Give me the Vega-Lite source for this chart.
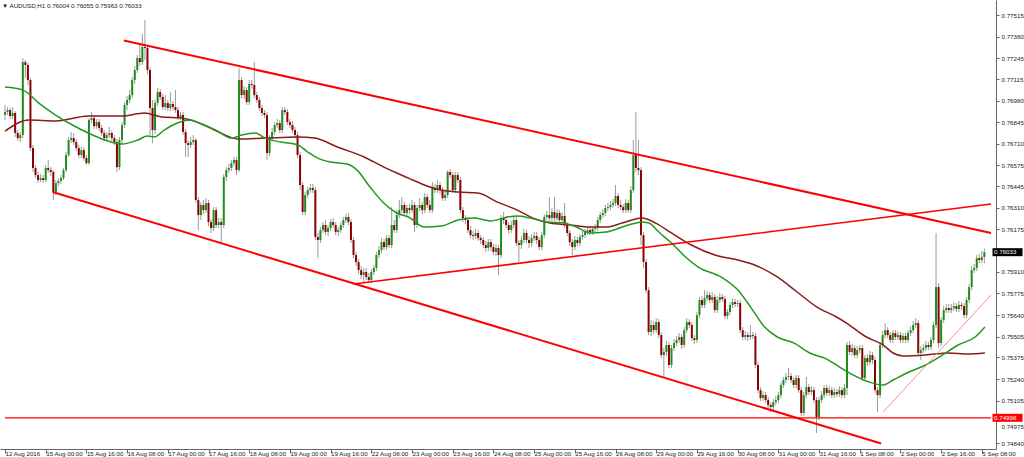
{
"$schema":"https://vega.github.io/schema/vega-lite/v6.json",
"width":996,"height":449,
"autosize":{"type":"none"},
"padding":{"left":0,"top":0,"right":28,"bottom":8},
"background":"white",
"config":{"view":{"stroke":null},"axis":{"labelFont":"Liberation Sans","labelFontSize":6.2,"labelColor":"#222222","domainColor":"#666666","tickColor":"#666666","grid":false,"labelOverlap":false,"labelBound":false,"labelFlush":false}},
"title":{"text":"▼ AUDUSD,H1   0.76004 0.76055 0.75963 0.76033","anchor":"start","orient":"top","frame":"group","offset":-9,"dx":2,"font":"Liberation Sans","fontSize":6.2,"fontWeight":"normal","color":"#222222"},
"datasets":{
"candles":[
{"i":0,"o":0.76890,"h":0.76953,"l":0.76859,"c":0.76909},
{"i":1,"o":0.76909,"h":0.76940,"l":0.76890,"c":0.76921},
{"i":2,"o":0.76921,"h":0.76934,"l":0.76865,"c":0.76884},
{"i":3,"o":0.76884,"h":0.76940,"l":0.76865,"c":0.76903},
{"i":4,"o":0.76903,"h":0.76915,"l":0.76753,"c":0.76778},
{"i":5,"o":0.76778,"h":0.76796,"l":0.76728,"c":0.76746},
{"i":6,"o":0.76746,"h":0.76784,"l":0.76721,"c":0.76765},
{"i":7,"o":0.76765,"h":0.77246,"l":0.76746,"c":0.77221},
{"i":8,"o":0.77221,"h":0.77234,"l":0.77121,"c":0.77203},
{"i":9,"o":0.77203,"h":0.77215,"l":0.77078,"c":0.77109},
{"i":10,"o":0.77109,"h":0.77121,"l":0.76665,"c":0.76684},
{"i":11,"o":0.76684,"h":0.76703,"l":0.76534,"c":0.76559},
{"i":12,"o":0.76559,"h":0.76578,"l":0.76496,"c":0.76515},
{"i":13,"o":0.76515,"h":0.76534,"l":0.76465,"c":0.76484},
{"i":14,"o":0.76484,"h":0.76521,"l":0.76471,"c":0.76496},
{"i":15,"o":0.76496,"h":0.76515,"l":0.76465,"c":0.76484},
{"i":16,"o":0.76484,"h":0.76578,"l":0.76471,"c":0.76559},
{"i":17,"o":0.76559,"h":0.76609,"l":0.76528,"c":0.76546},
{"i":18,"o":0.76546,"h":0.76565,"l":0.76509,"c":0.76534},
{"i":19,"o":0.76534,"h":0.76546,"l":0.76359,"c":0.76409},
{"i":20,"o":0.76409,"h":0.76484,"l":0.76390,"c":0.76465},
{"i":21,"o":0.76465,"h":0.76496,"l":0.76446,"c":0.76478},
{"i":22,"o":0.76478,"h":0.76515,"l":0.76459,"c":0.76496},
{"i":23,"o":0.76496,"h":0.76559,"l":0.76484,"c":0.76546},
{"i":24,"o":0.76546,"h":0.76659,"l":0.76534,"c":0.76640},
{"i":25,"o":0.76640,"h":0.76753,"l":0.76628,"c":0.76734},
{"i":26,"o":0.76734,"h":0.76784,"l":0.76715,"c":0.76746},
{"i":27,"o":0.76746,"h":0.76778,"l":0.76703,"c":0.76721},
{"i":28,"o":0.76721,"h":0.76740,"l":0.76665,"c":0.76684},
{"i":29,"o":0.76684,"h":0.76703,"l":0.76621,"c":0.76640},
{"i":30,"o":0.76640,"h":0.76690,"l":0.76621,"c":0.76671},
{"i":31,"o":0.76671,"h":0.76690,"l":0.76603,"c":0.76621},
{"i":32,"o":0.76621,"h":0.76640,"l":0.76578,"c":0.76590},
{"i":33,"o":0.76590,"h":0.76871,"l":0.76578,"c":0.76859},
{"i":34,"o":0.76859,"h":0.76909,"l":0.76840,"c":0.76871},
{"i":35,"o":0.76871,"h":0.76890,"l":0.76803,"c":0.76821},
{"i":36,"o":0.76821,"h":0.76865,"l":0.76803,"c":0.76846},
{"i":37,"o":0.76846,"h":0.76865,"l":0.76790,"c":0.76809},
{"i":38,"o":0.76809,"h":0.76828,"l":0.76759,"c":0.76778},
{"i":39,"o":0.76778,"h":0.76796,"l":0.76728,"c":0.76746},
{"i":40,"o":0.76746,"h":0.76784,"l":0.76728,"c":0.76765},
{"i":41,"o":0.76765,"h":0.76815,"l":0.76746,"c":0.76778},
{"i":42,"o":0.76778,"h":0.76796,"l":0.76728,"c":0.76746},
{"i":43,"o":0.76746,"h":0.76765,"l":0.76703,"c":0.76721},
{"i":44,"o":0.76721,"h":0.76740,"l":0.76534,"c":0.76565},
{"i":45,"o":0.76565,"h":0.76753,"l":0.76546,"c":0.76734},
{"i":46,"o":0.76734,"h":0.76846,"l":0.76715,"c":0.76828},
{"i":47,"o":0.76828,"h":0.76971,"l":0.76809,"c":0.76953},
{"i":48,"o":0.76953,"h":0.77009,"l":0.76921,"c":0.76984},
{"i":49,"o":0.76984,"h":0.77046,"l":0.76965,"c":0.77015},
{"i":50,"o":0.77015,"h":0.77128,"l":0.76996,"c":0.77109},
{"i":51,"o":0.77109,"h":0.77196,"l":0.77084,"c":0.77171},
{"i":52,"o":0.77171,"h":0.77265,"l":0.77153,"c":0.77246},
{"i":53,"o":0.77246,"h":0.77328,"l":0.77196,"c":0.77221},
{"i":54,"o":0.77221,"h":0.77396,"l":0.77203,"c":0.77315},
{"i":55,"o":0.77315,"h":0.77484,"l":0.77234,"c":0.77309},
{"i":56,"o":0.77309,"h":0.77328,"l":0.77146,"c":0.77171},
{"i":57,"o":0.77171,"h":0.77190,"l":0.76765,"c":0.76934},
{"i":58,"o":0.76934,"h":0.76984,"l":0.76715,"c":0.76796},
{"i":59,"o":0.76796,"h":0.76984,"l":0.76771,"c":0.76965},
{"i":60,"o":0.76965,"h":0.77059,"l":0.76946,"c":0.77034},
{"i":61,"o":0.77034,"h":0.77053,"l":0.76984,"c":0.77003},
{"i":62,"o":0.77003,"h":0.77021,"l":0.76921,"c":0.76940},
{"i":63,"o":0.76940,"h":0.77015,"l":0.76921,"c":0.76965},
{"i":64,"o":0.76965,"h":0.76984,"l":0.76915,"c":0.76934},
{"i":65,"o":0.76934,"h":0.77034,"l":0.76915,"c":0.76959},
{"i":66,"o":0.76959,"h":0.76978,"l":0.76921,"c":0.76940},
{"i":67,"o":0.76940,"h":0.77046,"l":0.76903,"c":0.76921},
{"i":68,"o":0.76921,"h":0.76940,"l":0.76859,"c":0.76878},
{"i":69,"o":0.76878,"h":0.76909,"l":0.76859,"c":0.76890},
{"i":70,"o":0.76890,"h":0.76909,"l":0.76765,"c":0.76784},
{"i":71,"o":0.76784,"h":0.76803,"l":0.76628,"c":0.76715},
{"i":72,"o":0.76715,"h":0.76734,"l":0.76628,"c":0.76703},
{"i":73,"o":0.76703,"h":0.76753,"l":0.76684,"c":0.76721},
{"i":74,"o":0.76721,"h":0.76765,"l":0.76703,"c":0.76734},
{"i":75,"o":0.76734,"h":0.76746,"l":0.76340,"c":0.76359},
{"i":76,"o":0.76359,"h":0.76378,"l":0.76171,"c":0.76265},
{"i":77,"o":0.76265,"h":0.76346,"l":0.76234,"c":0.76328},
{"i":78,"o":0.76328,"h":0.76359,"l":0.76271,"c":0.76296},
{"i":79,"o":0.76296,"h":0.76371,"l":0.76278,"c":0.76340},
{"i":80,"o":0.76340,"h":0.76359,"l":0.76196,"c":0.76221},
{"i":81,"o":0.76221,"h":0.76240,"l":0.76153,"c":0.76184},
{"i":82,"o":0.76184,"h":0.76315,"l":0.76165,"c":0.76296},
{"i":83,"o":0.76296,"h":0.76315,"l":0.76184,"c":0.76203},
{"i":84,"o":0.76203,"h":0.76246,"l":0.76184,"c":0.76221},
{"i":85,"o":0.76221,"h":0.76246,"l":0.76090,"c":0.76203},
{"i":86,"o":0.76203,"h":0.76521,"l":0.76184,"c":0.76503},
{"i":87,"o":0.76503,"h":0.76565,"l":0.76478,"c":0.76546},
{"i":88,"o":0.76546,"h":0.76584,"l":0.76528,"c":0.76559},
{"i":89,"o":0.76559,"h":0.76609,"l":0.76540,"c":0.76590},
{"i":90,"o":0.76590,"h":0.76628,"l":0.76571,"c":0.76609},
{"i":91,"o":0.76609,"h":0.76628,"l":0.76515,"c":0.76546},
{"i":92,"o":0.76546,"h":0.77184,"l":0.76534,"c":0.77109},
{"i":93,"o":0.77109,"h":0.77128,"l":0.76996,"c":0.77015},
{"i":94,"o":0.77015,"h":0.77071,"l":0.76990,"c":0.77046},
{"i":95,"o":0.77046,"h":0.77065,"l":0.76953,"c":0.76971},
{"i":96,"o":0.76971,"h":0.77109,"l":0.76953,"c":0.77084},
{"i":97,"o":0.77084,"h":0.77109,"l":0.77053,"c":0.77078},
{"i":98,"o":0.77078,"h":0.77221,"l":0.76996,"c":0.77015},
{"i":99,"o":0.77015,"h":0.77034,"l":0.76965,"c":0.76984},
{"i":100,"o":0.76984,"h":0.77003,"l":0.76915,"c":0.76934},
{"i":101,"o":0.76934,"h":0.76953,"l":0.76884,"c":0.76903},
{"i":102,"o":0.76903,"h":0.76921,"l":0.76871,"c":0.76890},
{"i":103,"o":0.76890,"h":0.76909,"l":0.76609,"c":0.76653},
{"i":104,"o":0.76653,"h":0.76765,"l":0.76634,"c":0.76746},
{"i":105,"o":0.76746,"h":0.76809,"l":0.76728,"c":0.76784},
{"i":106,"o":0.76784,"h":0.76846,"l":0.76765,"c":0.76828},
{"i":107,"o":0.76828,"h":0.76865,"l":0.76809,"c":0.76840},
{"i":108,"o":0.76840,"h":0.76859,"l":0.76778,"c":0.76796},
{"i":109,"o":0.76796,"h":0.76940,"l":0.76778,"c":0.76921},
{"i":110,"o":0.76921,"h":0.76940,"l":0.76890,"c":0.76909},
{"i":111,"o":0.76909,"h":0.76928,"l":0.76828,"c":0.76846},
{"i":112,"o":0.76846,"h":0.76865,"l":0.76809,"c":0.76828},
{"i":113,"o":0.76828,"h":0.76853,"l":0.76778,"c":0.76796},
{"i":114,"o":0.76796,"h":0.76815,"l":0.76746,"c":0.76765},
{"i":115,"o":0.76765,"h":0.76784,"l":0.76621,"c":0.76640},
{"i":116,"o":0.76640,"h":0.76659,"l":0.76421,"c":0.76453},
{"i":117,"o":0.76453,"h":0.76471,"l":0.76265,"c":0.76284},
{"i":118,"o":0.76284,"h":0.76409,"l":0.76265,"c":0.76390},
{"i":119,"o":0.76390,"h":0.76440,"l":0.76371,"c":0.76421},
{"i":120,"o":0.76421,"h":0.76459,"l":0.76403,"c":0.76434},
{"i":121,"o":0.76434,"h":0.76459,"l":0.76403,"c":0.76421},
{"i":122,"o":0.76421,"h":0.76440,"l":0.76109,"c":0.76128},
{"i":123,"o":0.76128,"h":0.76153,"l":0.75996,"c":0.76109},
{"i":124,"o":0.76109,"h":0.76190,"l":0.76090,"c":0.76171},
{"i":125,"o":0.76171,"h":0.76221,"l":0.76153,"c":0.76203},
{"i":126,"o":0.76203,"h":0.76234,"l":0.76140,"c":0.76159},
{"i":127,"o":0.76159,"h":0.76203,"l":0.76134,"c":0.76184},
{"i":128,"o":0.76184,"h":0.76240,"l":0.76165,"c":0.76221},
{"i":129,"o":0.76221,"h":0.76246,"l":0.76184,"c":0.76203},
{"i":130,"o":0.76203,"h":0.76221,"l":0.76140,"c":0.76159},
{"i":131,"o":0.76159,"h":0.76190,"l":0.76134,"c":0.76171},
{"i":132,"o":0.76171,"h":0.76221,"l":0.76153,"c":0.76203},
{"i":133,"o":0.76203,"h":0.76253,"l":0.76184,"c":0.76234},
{"i":134,"o":0.76234,"h":0.76271,"l":0.76215,"c":0.76253},
{"i":135,"o":0.76253,"h":0.76278,"l":0.76203,"c":0.76221},
{"i":136,"o":0.76221,"h":0.76240,"l":0.76090,"c":0.76109},
{"i":137,"o":0.76109,"h":0.76128,"l":0.75996,"c":0.76015},
{"i":138,"o":0.76015,"h":0.76034,"l":0.75946,"c":0.75971},
{"i":139,"o":0.75971,"h":0.75990,"l":0.75896,"c":0.75921},
{"i":140,"o":0.75921,"h":0.75946,"l":0.75865,"c":0.75890},
{"i":141,"o":0.75890,"h":0.75934,"l":0.75846,"c":0.75909},
{"i":142,"o":0.75909,"h":0.75934,"l":0.75859,"c":0.75878},
{"i":143,"o":0.75878,"h":0.75903,"l":0.75840,"c":0.75859},
{"i":144,"o":0.75859,"h":0.75928,"l":0.75840,"c":0.75909},
{"i":145,"o":0.75909,"h":0.75953,"l":0.75890,"c":0.75934},
{"i":146,"o":0.75934,"h":0.76034,"l":0.75915,"c":0.76015},
{"i":147,"o":0.76015,"h":0.76071,"l":0.75996,"c":0.76046},
{"i":148,"o":0.76046,"h":0.76121,"l":0.76028,"c":0.76096},
{"i":149,"o":0.76096,"h":0.76115,"l":0.76046,"c":0.76065},
{"i":150,"o":0.76065,"h":0.76140,"l":0.76046,"c":0.76121},
{"i":151,"o":0.76121,"h":0.76140,"l":0.76059,"c":0.76078},
{"i":152,"o":0.76078,"h":0.76315,"l":0.76059,"c":0.76203},
{"i":153,"o":0.76203,"h":0.76234,"l":0.76153,"c":0.76171},
{"i":154,"o":0.76171,"h":0.76296,"l":0.76153,"c":0.76265},
{"i":155,"o":0.76265,"h":0.76359,"l":0.76246,"c":0.76296},
{"i":156,"o":0.76296,"h":0.76378,"l":0.76278,"c":0.76328},
{"i":157,"o":0.76328,"h":0.76346,"l":0.76259,"c":0.76278},
{"i":158,"o":0.76278,"h":0.76328,"l":0.76259,"c":0.76309},
{"i":159,"o":0.76309,"h":0.76334,"l":0.76271,"c":0.76296},
{"i":160,"o":0.76296,"h":0.76359,"l":0.76278,"c":0.76328},
{"i":161,"o":0.76328,"h":0.76346,"l":0.76159,"c":0.76203},
{"i":162,"o":0.76203,"h":0.76328,"l":0.76184,"c":0.76309},
{"i":163,"o":0.76309,"h":0.76371,"l":0.76290,"c":0.76328},
{"i":164,"o":0.76328,"h":0.76346,"l":0.76271,"c":0.76296},
{"i":165,"o":0.76296,"h":0.76403,"l":0.76278,"c":0.76378},
{"i":166,"o":0.76378,"h":0.76396,"l":0.76309,"c":0.76328},
{"i":167,"o":0.76328,"h":0.76359,"l":0.76278,"c":0.76296},
{"i":168,"o":0.76296,"h":0.76471,"l":0.76278,"c":0.76434},
{"i":169,"o":0.76434,"h":0.76459,"l":0.76403,"c":0.76421},
{"i":170,"o":0.76421,"h":0.76484,"l":0.76403,"c":0.76453},
{"i":171,"o":0.76453,"h":0.76471,"l":0.76396,"c":0.76421},
{"i":172,"o":0.76421,"h":0.76440,"l":0.76353,"c":0.76371},
{"i":173,"o":0.76371,"h":0.76415,"l":0.76353,"c":0.76390},
{"i":174,"o":0.76390,"h":0.76546,"l":0.76371,"c":0.76534},
{"i":175,"o":0.76534,"h":0.76553,"l":0.76496,"c":0.76515},
{"i":176,"o":0.76515,"h":0.76534,"l":0.76403,"c":0.76421},
{"i":177,"o":0.76421,"h":0.76534,"l":0.76403,"c":0.76515},
{"i":178,"o":0.76515,"h":0.76534,"l":0.76465,"c":0.76484},
{"i":179,"o":0.76484,"h":0.76503,"l":0.76278,"c":0.76296},
{"i":180,"o":0.76296,"h":0.76315,"l":0.76221,"c":0.76246},
{"i":181,"o":0.76246,"h":0.76265,"l":0.76209,"c":0.76234},
{"i":182,"o":0.76234,"h":0.76253,"l":0.76153,"c":0.76171},
{"i":183,"o":0.76171,"h":0.76196,"l":0.76121,"c":0.76140},
{"i":184,"o":0.76140,"h":0.76165,"l":0.76109,"c":0.76134},
{"i":185,"o":0.76134,"h":0.76178,"l":0.76115,"c":0.76153},
{"i":186,"o":0.76153,"h":0.76171,"l":0.76103,"c":0.76121},
{"i":187,"o":0.76121,"h":0.76140,"l":0.76084,"c":0.76109},
{"i":188,"o":0.76109,"h":0.76128,"l":0.76059,"c":0.76078},
{"i":189,"o":0.76078,"h":0.76103,"l":0.76034,"c":0.76059},
{"i":190,"o":0.76059,"h":0.76115,"l":0.76040,"c":0.76096},
{"i":191,"o":0.76096,"h":0.76115,"l":0.76040,"c":0.76065},
{"i":192,"o":0.76065,"h":0.76084,"l":0.76015,"c":0.76034},
{"i":193,"o":0.76034,"h":0.76084,"l":0.76009,"c":0.76059},
{"i":194,"o":0.76059,"h":0.76078,"l":0.75890,"c":0.76015},
{"i":195,"o":0.76015,"h":0.76265,"l":0.75996,"c":0.76246},
{"i":196,"o":0.76246,"h":0.76284,"l":0.76209,"c":0.76234},
{"i":197,"o":0.76234,"h":0.76259,"l":0.76184,"c":0.76203},
{"i":198,"o":0.76203,"h":0.76221,"l":0.76146,"c":0.76171},
{"i":199,"o":0.76171,"h":0.76228,"l":0.76153,"c":0.76203},
{"i":200,"o":0.76203,"h":0.76259,"l":0.76184,"c":0.76234},
{"i":201,"o":0.76234,"h":0.76253,"l":0.76071,"c":0.76090},
{"i":202,"o":0.76090,"h":0.76109,"l":0.75971,"c":0.76078},
{"i":203,"o":0.76078,"h":0.76134,"l":0.76053,"c":0.76109},
{"i":204,"o":0.76109,"h":0.76178,"l":0.76090,"c":0.76153},
{"i":205,"o":0.76153,"h":0.76171,"l":0.76090,"c":0.76109},
{"i":206,"o":0.76109,"h":0.76134,"l":0.76059,"c":0.76090},
{"i":207,"o":0.76090,"h":0.76146,"l":0.76065,"c":0.76121},
{"i":208,"o":0.76121,"h":0.76159,"l":0.76103,"c":0.76134},
{"i":209,"o":0.76134,"h":0.76159,"l":0.76084,"c":0.76109},
{"i":210,"o":0.76109,"h":0.76128,"l":0.76046,"c":0.76065},
{"i":211,"o":0.76065,"h":0.76159,"l":0.76046,"c":0.76140},
{"i":212,"o":0.76140,"h":0.76271,"l":0.76121,"c":0.76253},
{"i":213,"o":0.76253,"h":0.76290,"l":0.76234,"c":0.76265},
{"i":214,"o":0.76265,"h":0.76378,"l":0.76228,"c":0.76246},
{"i":215,"o":0.76246,"h":0.76309,"l":0.76228,"c":0.76284},
{"i":216,"o":0.76284,"h":0.76378,"l":0.76228,"c":0.76246},
{"i":217,"o":0.76246,"h":0.76303,"l":0.76228,"c":0.76278},
{"i":218,"o":0.76278,"h":0.76296,"l":0.76215,"c":0.76234},
{"i":219,"o":0.76234,"h":0.76284,"l":0.76215,"c":0.76259},
{"i":220,"o":0.76259,"h":0.76340,"l":0.76184,"c":0.76203},
{"i":221,"o":0.76203,"h":0.76221,"l":0.76134,"c":0.76153},
{"i":222,"o":0.76153,"h":0.76171,"l":0.76071,"c":0.76096},
{"i":223,"o":0.76096,"h":0.76115,"l":0.76015,"c":0.76065},
{"i":224,"o":0.76065,"h":0.76134,"l":0.76046,"c":0.76109},
{"i":225,"o":0.76109,"h":0.76128,"l":0.76071,"c":0.76090},
{"i":226,"o":0.76090,"h":0.76146,"l":0.76071,"c":0.76128},
{"i":227,"o":0.76128,"h":0.76165,"l":0.76109,"c":0.76140},
{"i":228,"o":0.76140,"h":0.76178,"l":0.76121,"c":0.76159},
{"i":229,"o":0.76159,"h":0.76190,"l":0.76140,"c":0.76171},
{"i":230,"o":0.76171,"h":0.76190,"l":0.76140,"c":0.76159},
{"i":231,"o":0.76159,"h":0.76196,"l":0.76140,"c":0.76178},
{"i":232,"o":0.76178,"h":0.76209,"l":0.76159,"c":0.76184},
{"i":233,"o":0.76184,"h":0.76253,"l":0.76165,"c":0.76234},
{"i":234,"o":0.76234,"h":0.76284,"l":0.76215,"c":0.76265},
{"i":235,"o":0.76265,"h":0.76303,"l":0.76246,"c":0.76278},
{"i":236,"o":0.76278,"h":0.76328,"l":0.76259,"c":0.76309},
{"i":237,"o":0.76309,"h":0.76340,"l":0.76290,"c":0.76315},
{"i":238,"o":0.76315,"h":0.76353,"l":0.76296,"c":0.76328},
{"i":239,"o":0.76328,"h":0.76365,"l":0.76309,"c":0.76340},
{"i":240,"o":0.76340,"h":0.76453,"l":0.76321,"c":0.76384},
{"i":241,"o":0.76384,"h":0.76403,"l":0.76309,"c":0.76328},
{"i":242,"o":0.76328,"h":0.76359,"l":0.76296,"c":0.76315},
{"i":243,"o":0.76315,"h":0.76334,"l":0.76278,"c":0.76296},
{"i":244,"o":0.76296,"h":0.76365,"l":0.76278,"c":0.76340},
{"i":245,"o":0.76340,"h":0.76359,"l":0.76278,"c":0.76296},
{"i":246,"o":0.76296,"h":0.76446,"l":0.76278,"c":0.76421},
{"i":247,"o":0.76421,"h":0.76734,"l":0.76403,"c":0.76640},
{"i":248,"o":0.76640,"h":0.76909,"l":0.76534,"c":0.76559},
{"i":249,"o":0.76559,"h":0.76734,"l":0.76515,"c":0.76546},
{"i":250,"o":0.76546,"h":0.76565,"l":0.76078,"c":0.76140},
{"i":251,"o":0.76140,"h":0.76159,"l":0.75934,"c":0.75971},
{"i":252,"o":0.75971,"h":0.75990,"l":0.75778,"c":0.75796},
{"i":253,"o":0.75796,"h":0.75815,"l":0.75515,"c":0.75534},
{"i":254,"o":0.75534,"h":0.75609,"l":0.75509,"c":0.75578},
{"i":255,"o":0.75578,"h":0.75603,"l":0.75521,"c":0.75546},
{"i":256,"o":0.75546,"h":0.75621,"l":0.75528,"c":0.75596},
{"i":257,"o":0.75596,"h":0.75615,"l":0.75496,"c":0.75515},
{"i":258,"o":0.75515,"h":0.75534,"l":0.75371,"c":0.75390},
{"i":259,"o":0.75390,"h":0.75434,"l":0.75246,"c":0.75409},
{"i":260,"o":0.75409,"h":0.75478,"l":0.75384,"c":0.75453},
{"i":261,"o":0.75453,"h":0.75471,"l":0.75309,"c":0.75328},
{"i":262,"o":0.75328,"h":0.75453,"l":0.75309,"c":0.75434},
{"i":263,"o":0.75434,"h":0.75490,"l":0.75415,"c":0.75465},
{"i":264,"o":0.75465,"h":0.75509,"l":0.75446,"c":0.75484},
{"i":265,"o":0.75484,"h":0.75528,"l":0.75465,"c":0.75503},
{"i":266,"o":0.75503,"h":0.75521,"l":0.75428,"c":0.75453},
{"i":267,"o":0.75453,"h":0.75565,"l":0.75434,"c":0.75546},
{"i":268,"o":0.75546,"h":0.75621,"l":0.75528,"c":0.75596},
{"i":269,"o":0.75596,"h":0.75615,"l":0.75559,"c":0.75578},
{"i":270,"o":0.75578,"h":0.75596,"l":0.75478,"c":0.75496},
{"i":271,"o":0.75496,"h":0.75515,"l":0.75459,"c":0.75484},
{"i":272,"o":0.75484,"h":0.75659,"l":0.75465,"c":0.75640},
{"i":273,"o":0.75640,"h":0.75753,"l":0.75621,"c":0.75734},
{"i":274,"o":0.75734,"h":0.75759,"l":0.75684,"c":0.75703},
{"i":275,"o":0.75703,"h":0.75796,"l":0.75684,"c":0.75746},
{"i":276,"o":0.75746,"h":0.75790,"l":0.75728,"c":0.75765},
{"i":277,"o":0.75765,"h":0.75784,"l":0.75715,"c":0.75734},
{"i":278,"o":0.75734,"h":0.75784,"l":0.75715,"c":0.75753},
{"i":279,"o":0.75753,"h":0.75771,"l":0.75653,"c":0.75671},
{"i":280,"o":0.75671,"h":0.75759,"l":0.75653,"c":0.75734},
{"i":281,"o":0.75734,"h":0.75778,"l":0.75715,"c":0.75753},
{"i":282,"o":0.75753,"h":0.75771,"l":0.75721,"c":0.75740},
{"i":283,"o":0.75740,"h":0.75759,"l":0.75615,"c":0.75634},
{"i":284,"o":0.75634,"h":0.75678,"l":0.75615,"c":0.75659},
{"i":285,"o":0.75659,"h":0.75721,"l":0.75640,"c":0.75703},
{"i":286,"o":0.75703,"h":0.75746,"l":0.75684,"c":0.75721},
{"i":287,"o":0.75721,"h":0.75740,"l":0.75690,"c":0.75709},
{"i":288,"o":0.75709,"h":0.75734,"l":0.75690,"c":0.75715},
{"i":289,"o":0.75715,"h":0.75734,"l":0.75528,"c":0.75546},
{"i":290,"o":0.75546,"h":0.75565,"l":0.75484,"c":0.75503},
{"i":291,"o":0.75503,"h":0.75540,"l":0.75484,"c":0.75515},
{"i":292,"o":0.75515,"h":0.75534,"l":0.75478,"c":0.75503},
{"i":293,"o":0.75503,"h":0.75578,"l":0.75484,"c":0.75515},
{"i":294,"o":0.75515,"h":0.75534,"l":0.75490,"c":0.75509},
{"i":295,"o":0.75509,"h":0.75528,"l":0.75309,"c":0.75328},
{"i":296,"o":0.75328,"h":0.75346,"l":0.75153,"c":0.75171},
{"i":297,"o":0.75171,"h":0.75190,"l":0.75103,"c":0.75121},
{"i":298,"o":0.75121,"h":0.75165,"l":0.75103,"c":0.75140},
{"i":299,"o":0.75140,"h":0.75159,"l":0.75090,"c":0.75109},
{"i":300,"o":0.75109,"h":0.75128,"l":0.75059,"c":0.75078},
{"i":301,"o":0.75078,"h":0.75096,"l":0.75034,"c":0.75065},
{"i":302,"o":0.75065,"h":0.75115,"l":0.75046,"c":0.75096},
{"i":303,"o":0.75096,"h":0.75134,"l":0.75078,"c":0.75109},
{"i":304,"o":0.75109,"h":0.75159,"l":0.75090,"c":0.75140},
{"i":305,"o":0.75140,"h":0.75221,"l":0.75121,"c":0.75203},
{"i":306,"o":0.75203,"h":0.75253,"l":0.75184,"c":0.75234},
{"i":307,"o":0.75234,"h":0.75278,"l":0.75215,"c":0.75253},
{"i":308,"o":0.75253,"h":0.75309,"l":0.75234,"c":0.75259},
{"i":309,"o":0.75259,"h":0.75278,"l":0.75215,"c":0.75234},
{"i":310,"o":0.75234,"h":0.75253,"l":0.75184,"c":0.75203},
{"i":311,"o":0.75203,"h":0.75265,"l":0.75184,"c":0.75246},
{"i":312,"o":0.75246,"h":0.75265,"l":0.75153,"c":0.75171},
{"i":313,"o":0.75171,"h":0.75190,"l":0.75009,"c":0.75028},
{"i":314,"o":0.75028,"h":0.75159,"l":0.75009,"c":0.75140},
{"i":315,"o":0.75140,"h":0.75253,"l":0.75121,"c":0.75190},
{"i":316,"o":0.75190,"h":0.75209,"l":0.75140,"c":0.75159},
{"i":317,"o":0.75159,"h":0.75196,"l":0.75140,"c":0.75171},
{"i":318,"o":0.75171,"h":0.75190,"l":0.75090,"c":0.75109},
{"i":319,"o":0.75109,"h":0.75128,"l":0.74903,"c":0.75003},
{"i":320,"o":0.75003,"h":0.75128,"l":0.74984,"c":0.75109},
{"i":321,"o":0.75109,"h":0.75165,"l":0.75090,"c":0.75140},
{"i":322,"o":0.75140,"h":0.75203,"l":0.75121,"c":0.75184},
{"i":323,"o":0.75184,"h":0.75203,"l":0.75134,"c":0.75153},
{"i":324,"o":0.75153,"h":0.75196,"l":0.75134,"c":0.75171},
{"i":325,"o":0.75171,"h":0.75190,"l":0.75121,"c":0.75140},
{"i":326,"o":0.75140,"h":0.75184,"l":0.75121,"c":0.75159},
{"i":327,"o":0.75159,"h":0.75178,"l":0.75128,"c":0.75146},
{"i":328,"o":0.75146,"h":0.75196,"l":0.75128,"c":0.75171},
{"i":329,"o":0.75171,"h":0.75190,"l":0.75121,"c":0.75140},
{"i":330,"o":0.75140,"h":0.75209,"l":0.75121,"c":0.75184},
{"i":331,"o":0.75184,"h":0.75471,"l":0.75140,"c":0.75453},
{"i":332,"o":0.75453,"h":0.75478,"l":0.75390,"c":0.75409},
{"i":333,"o":0.75409,"h":0.75459,"l":0.75384,"c":0.75434},
{"i":334,"o":0.75434,"h":0.75453,"l":0.75371,"c":0.75390},
{"i":335,"o":0.75390,"h":0.75446,"l":0.75371,"c":0.75421},
{"i":336,"o":0.75421,"h":0.75453,"l":0.75403,"c":0.75434},
{"i":337,"o":0.75434,"h":0.75453,"l":0.75228,"c":0.75246},
{"i":338,"o":0.75246,"h":0.75390,"l":0.75228,"c":0.75371},
{"i":339,"o":0.75371,"h":0.75396,"l":0.75321,"c":0.75346},
{"i":340,"o":0.75346,"h":0.75415,"l":0.75328,"c":0.75390},
{"i":341,"o":0.75390,"h":0.75409,"l":0.75334,"c":0.75359},
{"i":342,"o":0.75359,"h":0.75378,"l":0.75153,"c":0.75171},
{"i":343,"o":0.75171,"h":0.75190,"l":0.75034,"c":0.75140},
{"i":344,"o":0.75140,"h":0.75471,"l":0.75121,"c":0.75453},
{"i":345,"o":0.75453,"h":0.75540,"l":0.75434,"c":0.75515},
{"i":346,"o":0.75515,"h":0.75590,"l":0.75496,"c":0.75546},
{"i":347,"o":0.75546,"h":0.75565,"l":0.75496,"c":0.75515},
{"i":348,"o":0.75515,"h":0.75534,"l":0.75465,"c":0.75484},
{"i":349,"o":0.75484,"h":0.75546,"l":0.75465,"c":0.75528},
{"i":350,"o":0.75528,"h":0.75546,"l":0.75484,"c":0.75503},
{"i":351,"o":0.75503,"h":0.75540,"l":0.75484,"c":0.75515},
{"i":352,"o":0.75515,"h":0.75534,"l":0.75465,"c":0.75484},
{"i":353,"o":0.75484,"h":0.75528,"l":0.75465,"c":0.75509},
{"i":354,"o":0.75509,"h":0.75528,"l":0.75465,"c":0.75484},
{"i":355,"o":0.75484,"h":0.75546,"l":0.75465,"c":0.75528},
{"i":356,"o":0.75528,"h":0.75571,"l":0.75509,"c":0.75546},
{"i":357,"o":0.75546,"h":0.75603,"l":0.75528,"c":0.75578},
{"i":358,"o":0.75578,"h":0.75621,"l":0.75559,"c":0.75590},
{"i":359,"o":0.75590,"h":0.75609,"l":0.75384,"c":0.75403},
{"i":360,"o":0.75403,"h":0.75446,"l":0.75359,"c":0.75421},
{"i":361,"o":0.75421,"h":0.75459,"l":0.75403,"c":0.75434},
{"i":362,"o":0.75434,"h":0.75478,"l":0.75415,"c":0.75453},
{"i":363,"o":0.75453,"h":0.75471,"l":0.75421,"c":0.75440},
{"i":364,"o":0.75440,"h":0.75503,"l":0.75421,"c":0.75484},
{"i":365,"o":0.75484,"h":0.75596,"l":0.75465,"c":0.75578},
{"i":366,"o":0.75578,"h":0.76153,"l":0.75559,"c":0.75815},
{"i":367,"o":0.75815,"h":0.75840,"l":0.75434,"c":0.75465},
{"i":368,"o":0.75465,"h":0.75628,"l":0.75446,"c":0.75609},
{"i":369,"o":0.75609,"h":0.75696,"l":0.75590,"c":0.75671},
{"i":370,"o":0.75671,"h":0.75709,"l":0.75653,"c":0.75684},
{"i":371,"o":0.75684,"h":0.75709,"l":0.75653,"c":0.75671},
{"i":372,"o":0.75671,"h":0.75709,"l":0.75653,"c":0.75684},
{"i":373,"o":0.75684,"h":0.75721,"l":0.75665,"c":0.75696},
{"i":374,"o":0.75696,"h":0.75715,"l":0.75659,"c":0.75678},
{"i":375,"o":0.75678,"h":0.75728,"l":0.75659,"c":0.75703},
{"i":376,"o":0.75703,"h":0.75721,"l":0.75671,"c":0.75696},
{"i":377,"o":0.75696,"h":0.75715,"l":0.75621,"c":0.75640},
{"i":378,"o":0.75640,"h":0.75753,"l":0.75621,"c":0.75734},
{"i":379,"o":0.75734,"h":0.75834,"l":0.75715,"c":0.75815},
{"i":380,"o":0.75815,"h":0.75946,"l":0.75796,"c":0.75921},
{"i":381,"o":0.75921,"h":0.75959,"l":0.75903,"c":0.75934},
{"i":382,"o":0.75934,"h":0.76015,"l":0.75915,"c":0.75996},
{"i":383,"o":0.75996,"h":0.76021,"l":0.75965,"c":0.75984},
{"i":384,"o":0.75984,"h":0.76040,"l":0.75965,"c":0.76004},
{"i":385,"o":0.76004,"h":0.76055,"l":0.75963,"c":0.76033}
],
"ma":[
{"ma":"fast","i":0,"p":0.77065},{"ma":"fast","i":7.1,"p":0.77046},{"ma":"fast","i":13.3,"p":0.76965},{"ma":"fast","i":19.9,"p":0.76890},{"ma":"fast","i":26.5,"p":0.76828},{"ma":"fast","i":32.7,"p":0.76778},{"ma":"fast","i":39.3,"p":0.76734},{"ma":"fast","i":45.9,"p":0.76709},{"ma":"fast","i":52.2,"p":0.76734},{"ma":"fast","i":56,"p":0.76759},{"ma":"fast","i":58.8,"p":0.76753},{"ma":"fast","i":62.6,"p":0.76796},{"ma":"fast","i":67.7,"p":0.76840},{"ma":"fast","i":73.1,"p":0.76859},{"ma":"fast","i":76.3,"p":0.76840},{"ma":"fast","i":82.9,"p":0.76796},{"ma":"fast","i":89.1,"p":0.76746},{"ma":"fast","i":93,"p":0.76765},{"ma":"fast","i":98.4,"p":0.76778},{"ma":"fast","i":102.3,"p":0.76746},{"ma":"fast","i":108.5,"p":0.76721},{"ma":"fast","i":115.1,"p":0.76703},{"ma":"fast","i":119,"p":0.76659},{"ma":"fast","i":122.9,"p":0.76621},{"ma":"fast","i":128,"p":0.76596},{"ma":"fast","i":134.5,"p":0.76584},{"ma":"fast","i":138.4,"p":0.76546},{"ma":"fast","i":143.5,"p":0.76440},{"ma":"fast","i":148.9,"p":0.76340},{"ma":"fast","i":154,"p":0.76278},{"ma":"fast","i":158.6,"p":0.76253},{"ma":"fast","i":164.9,"p":0.76190},{"ma":"fast","i":171.5,"p":0.76196},{"ma":"fast","i":178.1,"p":0.76234},{"ma":"fast","i":184.3,"p":0.76246},{"ma":"fast","i":190.9,"p":0.76228},{"ma":"fast","i":197.5,"p":0.76253},{"ma":"fast","i":201.4,"p":0.76259},{"ma":"fast","i":206.5,"p":0.76246},{"ma":"fast","i":213.1,"p":0.76221},{"ma":"fast","i":219.3,"p":0.76215},{"ma":"fast","i":224.7,"p":0.76190},{"ma":"fast","i":229.8,"p":0.76153},{"ma":"fast","i":236.4,"p":0.76159},{"ma":"fast","i":242.6,"p":0.76190},{"ma":"fast","i":248,"p":0.76215},{"ma":"fast","i":250.4,"p":0.76221},{"ma":"fast","i":253.1,"p":0.76215},{"ma":"fast","i":257,"p":0.76159},{"ma":"fast","i":262,"p":0.76090},{"ma":"fast","i":267.5,"p":0.76003},{"ma":"fast","i":272.5,"p":0.75940},{"ma":"fast","i":281.5,"p":0.75878},{"ma":"fast","i":288.1,"p":0.75796},{"ma":"fast","i":293.1,"p":0.75690},{"ma":"fast","i":298.6,"p":0.75565},{"ma":"fast","i":303.6,"p":0.75503},{"ma":"fast","i":310.2,"p":0.75465},{"ma":"fast","i":316.4,"p":0.75403},{"ma":"fast","i":323,"p":0.75365},{"ma":"fast","i":328.1,"p":0.75315},{"ma":"fast","i":333.5,"p":0.75265},{"ma":"fast","i":339.8,"p":0.75221},{"ma":"fast","i":345.2,"p":0.75203},{"ma":"fast","i":349.1,"p":0.75234},{"ma":"fast","i":355.3,"p":0.75284},{"ma":"fast","i":361.9,"p":0.75328},{"ma":"fast","i":368.5,"p":0.75390},{"ma":"fast","i":374.7,"p":0.75453},{"ma":"fast","i":381.4,"p":0.75503},{"ma":"fast","i":385.2,"p":0.75565},
{"ma":"slow","i":0,"p":0.76790},{"ma":"slow","i":9.4,"p":0.76859},{"ma":"slow","i":19.9,"p":0.76853},{"ma":"slow","i":32.7,"p":0.76884},{"ma":"slow","i":45.9,"p":0.76884},{"ma":"slow","i":54.9,"p":0.76903},{"ma":"slow","i":61.5,"p":0.76878},{"ma":"slow","i":69.3,"p":0.76871},{"ma":"slow","i":75.5,"p":0.76846},{"ma":"slow","i":78.2,"p":0.76828},{"ma":"slow","i":84,"p":0.76784},{"ma":"slow","i":91.8,"p":0.76740},{"ma":"slow","i":102.3,"p":0.76746},{"ma":"slow","i":115.1,"p":0.76753},{"ma":"slow","i":121.7,"p":0.76746},{"ma":"slow","i":130.7,"p":0.76690},{"ma":"slow","i":141.2,"p":0.76628},{"ma":"slow","i":148.9,"p":0.76565},{"ma":"slow","i":154,"p":0.76528},{"ma":"slow","i":158.6,"p":0.76496},{"ma":"slow","i":164.9,"p":0.76453},{"ma":"slow","i":171.5,"p":0.76421},{"ma":"slow","i":178.1,"p":0.76409},{"ma":"slow","i":185.9,"p":0.76403},{"ma":"slow","i":193.6,"p":0.76346},{"ma":"slow","i":201.4,"p":0.76296},{"ma":"slow","i":207.6,"p":0.76246},{"ma":"slow","i":214.2,"p":0.76215},{"ma":"slow","i":222,"p":0.76203},{"ma":"slow","i":229.8,"p":0.76190},{"ma":"slow","i":236.4,"p":0.76190},{"ma":"slow","i":242.6,"p":0.76215},{"ma":"slow","i":250.4,"p":0.76246},{"ma":"slow","i":255.8,"p":0.76215},{"ma":"slow","i":262,"p":0.76153},{"ma":"slow","i":269.8,"p":0.76078},{"ma":"slow","i":279.1,"p":0.76015},{"ma":"slow","i":288.1,"p":0.75984},{"ma":"slow","i":294.7,"p":0.75953},{"ma":"slow","i":303.6,"p":0.75878},{"ma":"slow","i":311.4,"p":0.75784},{"ma":"slow","i":319.2,"p":0.75690},{"ma":"slow","i":326.9,"p":0.75628},{"ma":"slow","i":330.8,"p":0.75590},{"ma":"slow","i":338.6,"p":0.75503},{"ma":"slow","i":345.2,"p":0.75453},{"ma":"slow","i":349.1,"p":0.75403},{"ma":"slow","i":353,"p":0.75384},{"ma":"slow","i":361.9,"p":0.75390},{"ma":"slow","i":370.8,"p":0.75403},{"ma":"slow","i":378.6,"p":0.75396},{"ma":"slow","i":385.2,"p":0.75403}
],
"lines":[
{"line":"upper","i":46.7,"p":0.77356},{"line":"upper","i":387.6,"p":0.76153},
{"line":"lower","i":18.7,"p":0.76409},{"line":"lower","i":344.4,"p":0.74837},
{"line":"rise","i":137,"p":0.75834},{"line":"rise","i":387.6,"p":0.76334},
{"line":"level","i":0,"p":0.74998},{"line":"level","i":387.6,"p":0.74998},
{"line":"pink","i":345.2,"p":0.75034},{"line":"pink","i":387.6,"p":0.75765}
],
"tags":[
{"label":"0.76033","p":0.76033,"kind":"bid"},
{"label":"0.74998","p":0.74998,"kind":"level"}
]
},
"layer":[
{"data":{"name":"candles"},
 "mark":{"type":"rule","color":"#9a9a9a","strokeWidth":1},
 "encoding":{
  "x":{"field":"i","type":"quantitative","scale":{"domain":[0,387.6],"nice":false,"zero":false},
   "axis":{"title":null,"tickCount":60,"values":[0,16,32,48,64,80,96,112,128,144,160,176,192,208,224,240,256,272,288,304,320,336,352,368,384],
    "labelExpr":"['12 Aug 2016','15 Aug 00:00','15 Aug 16:00','16 Aug 08:00','17 Aug 00:00','17 Aug 16:00','18 Aug 08:00','19 Aug 00:00','19 Aug 16:00','22 Aug 08:00','23 Aug 00:00','23 Aug 16:00','24 Aug 08:00','25 Aug 00:00','25 Aug 16:00','26 Aug 08:00','29 Aug 00:00','29 Aug 16:00','30 Aug 08:00','31 Aug 00:00','31 Aug 16:00','1 Sep 08:00','2 Sep 00:00','2 Sep 16:00','5 Sep 08:00'][round(datum.value/16)]",
    "labelAlign":"left","labelBaseline":"top","labelPadding":-3,"labelDx":2,"tickSize":4,"labelFlush":false,"labelOverlap":false,"labelBound":false}},
  "y":{"field":"l","type":"quantitative","scale":{"domain":[0.74803,0.77609],"nice":false,"zero":false},
   "axis":{"orient":"right","title":null,"tickCount":60,"values":[0.77515,0.7738,0.77245,0.77115,0.7698,0.76845,0.7671,0.76575,0.76445,0.7631,0.76175,0.7591,0.75775,0.7564,0.75505,0.75375,0.7524,0.75105,0.74975,0.7484],
    "format":".5f","tickSize":3,"labelPadding":2,"labelOverlap":false,"labelFlush":false,"labelBound":false,
    "labelOffset":{"condition":{"test":"datum.value > 0.7497 && datum.value < 0.7498","value":5},"value":0}}},
  "y2":{"field":"h"}}},
{"data":{"name":"candles"},
 "mark":{"type":"bar","width":2},
 "encoding":{
  "x":{"field":"i","type":"quantitative"},
  "y":{"field":"o","type":"quantitative"},
  "y2":{"field":"c"},
  "color":{"condition":{"test":"datum.c >= datum.o","value":"#1e8c1e"},"value":"#8b0000"}}},
{"data":{"name":"ma"},
 "transform":[{"filter":"datum.ma == 'slow'"}],
 "mark":{"type":"line","strokeWidth":1.5,"interpolate":"monotone","color":"#8b1a1a"},
 "encoding":{
  "x":{"field":"i","type":"quantitative"},
  "y":{"field":"p","type":"quantitative"}}},
{"data":{"name":"ma"},
 "transform":[{"filter":"datum.ma == 'fast'"}],
 "mark":{"type":"line","strokeWidth":1.5,"interpolate":"monotone","color":"#1f9a1f"},
 "encoding":{
  "x":{"field":"i","type":"quantitative"},
  "y":{"field":"p","type":"quantitative"}}},
{"data":{"name":"lines"},
 "transform":[{"filter":"datum.line == 'upper' || datum.line == 'lower'"}],
 "mark":{"type":"line","color":"#ff0000","strokeWidth":2},
 "encoding":{
  "x":{"field":"i","type":"quantitative"},
  "y":{"field":"p","type":"quantitative"},
  "detail":{"field":"line"}}},
{"data":{"name":"lines"},
 "transform":[{"filter":"datum.line == 'rise'"}],
 "mark":{"type":"line","color":"#ff0000","strokeWidth":1.6},
 "encoding":{
  "x":{"field":"i","type":"quantitative"},
  "y":{"field":"p","type":"quantitative"}}},
{"data":{"name":"lines"},
 "transform":[{"filter":"datum.line == 'level'"}],
 "mark":{"type":"line","color":"#ff0000","strokeWidth":1.2},
 "encoding":{
  "x":{"field":"i","type":"quantitative"},
  "y":{"field":"p","type":"quantitative"}}},
{"data":{"name":"lines"},
 "transform":[{"filter":"datum.line == 'pink'"}],
 "mark":{"type":"line","color":"#ff8c8c","strokeWidth":1},
 "encoding":{
  "x":{"field":"i","type":"quantitative"},
  "y":{"field":"p","type":"quantitative"}}},
{"data":{"name":"tags"},
 "mark":{"type":"rule","strokeWidth":8,"strokeCap":"butt"},
 "encoding":{
  "x":{"datum":388.2},"x2":{"datum":400},
  "y":{"field":"p","type":"quantitative"},
  "color":{"condition":{"test":"datum.kind == 'bid'","value":"#000000"},"value":"#ff0000"}}},
{"data":{"name":"tags"},
 "mark":{"type":"text","align":"left","baseline":"middle","font":"Liberation Sans","fontSize":6.2,"color":"#ffffff","dx":1.5},
 "encoding":{
  "x":{"datum":388.2},
  "y":{"field":"p","type":"quantitative"},
  "text":{"field":"label"}}}
]
}
